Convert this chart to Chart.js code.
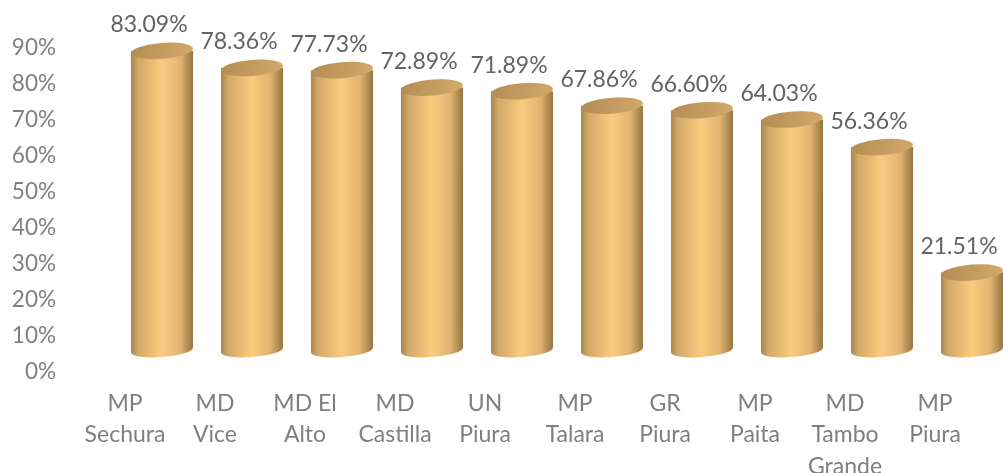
<!DOCTYPE html>
<html>
<head>
<meta charset="utf-8">
<script src="https://cdn.jsdelivr.net/npm/chart.js@4/dist/chart.umd.min.js"></script>
<style>
  html, body { margin: 0; padding: 0; background: #fff; }
  #wrap { width: 1003px; height: 473px; }
</style>
</head>
<body>
<div id="wrap"><canvas id="chart"></canvas></div>
<script>
// datos
const categories = [
    ['MP', 'Sechura'], ['MD', 'Vice'], ['MD El', 'Alto'], ['MD', 'Castilla'], ['UN', 'Piura'],
    ['MP', 'Talara'], ['GR', 'Piura'], ['MP', 'Paita'], ['MD', 'Tambo', 'Grande'], ['MP', 'Piura']
];
const values = [83.09, 78.36, 77.73, 72.89, 71.89, 67.86, 66.60, 64.03, 56.36, 21.51];
const yTicks = [0, 10, 20, 30, 40, 50, 60, 70, 80, 90];

const FONT = 'Lato, "Open Sans", sans-serif';
const GREY = '#7f7f7f';

// efecto 3D: desplazamiento de profundidad
const depthX = 37, depthY = -22;

const cylinderPlugin = {
    id: 'cylinders',
    afterDatasetsDraw(chart) {
        const ctx = chart.ctx;
        const meta = chart.getDatasetMeta(0);
        const tilt = -0.08;
        meta.data.forEach((bar, i) => {
            const w = bar.width;
            const cx = bar.x + depthX;
            const top = bar.y + depthY;
            const bottom = bar.base + depthY;
            const rx = w / 2, ry = 7;
            const left = cx - rx, right = cx + rx;

            const g = ctx.createLinearGradient(left, 0, right, 0);
            g.addColorStop(0, '#a9864f');
            g.addColorStop(0.12, '#d3a969');
            g.addColorStop(0.5, '#f9cb80');
            g.addColorStop(0.8, '#dfb26f');
            g.addColorStop(1, '#94743f');

            ctx.save();
            // cuerpo
            ctx.beginPath();
            ctx.moveTo(left, top);
            ctx.lineTo(left, bottom);
            ctx.ellipse(cx, bottom, rx, ry, tilt, Math.PI, 0, true);
            ctx.lineTo(right, top);
            ctx.closePath();
            ctx.fillStyle = g;
            ctx.fill();

            // tapa
            const tg = ctx.createLinearGradient(left, top - ry, right, top + ry);
            tg.addColorStop(0, '#b48c54');
            tg.addColorStop(0.6, '#c69d61');
            tg.addColorStop(1, '#d4ab6b');
            ctx.beginPath();
            ctx.ellipse(cx, top, rx, ry + 1, tilt, 0, Math.PI * 2);
            ctx.fillStyle = tg;
            ctx.fill();

            // etiqueta
            ctx.fillStyle = '#636363';
            ctx.font = '23px ' + FONT;
            ctx.textAlign = 'center';
            ctx.textBaseline = 'middle';
            ctx.fillText(values[i].toFixed(2) + '%', bar.x + 24, bar.y - 48);
            ctx.restore();
        });
    }
};

new Chart(document.getElementById('chart'), {
    type: 'bar',
    data: {
        labels: categories,
        datasets: [{
            data: values,
            backgroundColor: 'rgba(0,0,0,0)',
            barPercentage: 0.69,
            categoryPercentage: 1
        }]
    },
    options: {
        responsive: true,
        maintainAspectRatio: false,
        animation: false,
        layout: { padding: { top: 48, right: 23, left: 0, bottom: 0 } },
        plugins: {
            legend: { display: false },
            tooltip: { enabled: false }
        },
        scales: {
            x: {
                grid: { display: false },
                border: { display: false },
                ticks: {
                    color: GREY,
                    font: { family: FONT, size: 23, lineHeight: 1.36 },
                    padding: 8,
                    maxRotation: 0,
                    autoSkip: false
                },
                afterFit(scale) { scale.height = 101; }
            },
            y: {
                min: 0,
                max: 90,
                afterBuildTicks(scale) { scale.ticks = yTicks.map(v => ({ value: v })); },
                grid: { display: false },
                border: { display: false },
                ticks: {
                    color: GREY,
                    font: { family: FONT, size: 22.5 },
                    padding: 16,
                    callback: v => v + '%'
                },
                afterFit(scale) { scale.width = 80; }
            }
        }
    },
    plugins: [cylinderPlugin]
});
</script>
</body>
</html>
